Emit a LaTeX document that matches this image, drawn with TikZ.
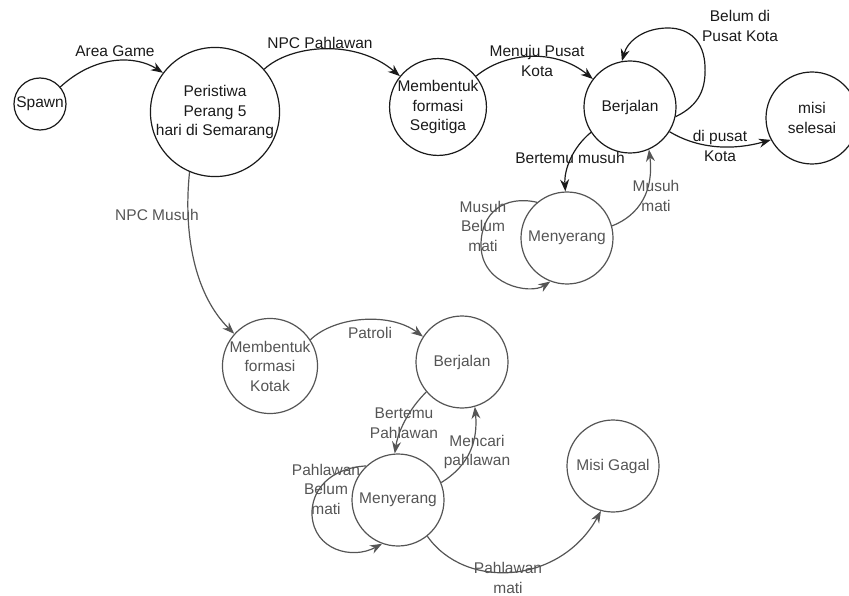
\documentclass[tikz,border=0pt]{standalone}
\usepackage{fontspec}
\setmainfont{Liberation Sans}
\usetikzlibrary{arrows.meta}
\definecolor{ink}{HTML}{1A1A1A}
\definecolor{soft}{HTML}{555555}
\begin{document}
\begin{tikzpicture}[x=1pt,y=-1pt,
  font=\fontsize{15.5}{19.5}\selectfont,
  state/.style={circle,draw=ink,text=ink,line width=1.2pt,inner sep=0pt,align=center},
  softstate/.style={state,draw=soft,text=soft},
  trans/.style={draw=ink,line width=1.2pt,-{Stealth[length=12pt,width=9pt]}},
  softtrans/.style={trans,draw=soft},
  lbl/.style={text=ink,align=center,inner sep=0pt},
  softlbl/.style={lbl,text=soft}]
\useasboundingbox (0,0) rectangle (849,596);

% upper states
\node[state,minimum size=52pt] (spawn) at (40,104) {Spawn};
\node[state,minimum size=104pt] (peri) at (215,112) {Peristiwa\\Perang 5\\hari di Semarang};
\node[state,minimum size=92pt] (segi) at (438,107) {Membentuk\\formasi\\Segitiga};
\node[state,minimum size=92pt] (jalan) at (630,107) {Berjalan};
\node[state,minimum size=92pt] (selesai) at (812,118) {misi\\selesai};
\node[softstate,minimum size=92pt] (serang) at (567,238) {Menyerang};

% lower states
\node[softstate,minimum size=92pt] (kotak) at (270,366) {Membentuk\\formasi\\Kotak};
\node[softstate,minimum size=92pt] (jalan2) at (462,362) {Berjalan};
\node[softstate,minimum size=92pt] (serang2) at (398,500) {Menyerang};
\node[softstate,minimum size=92pt] (gagal) at (613,466) {Misi Gagal};

% upper transitions
\draw[trans] (spawn.40) .. controls (95,55) and (135,55) .. (peri.143);
\node[lbl] (lArea) at (115,51) {Area Game};

\draw[trans] (peri.41) .. controls (290,45) and (355,38) .. (segi.141);
\node[lbl] (lPahl) at (320,43) {NPC Pahlawan};

\draw[trans] (segi.39) .. controls (505,52) and (555,48) .. (jalan.143);
\node[lbl] (lMenuju) at (537,61) {Menuju Pusat\\Kota};

\draw[trans] (jalan.-12) .. controls (700,105) and (706,88) .. (705,66)
  .. controls (704,42) and (690,28) .. (668,28)
  .. controls (645,28) and (628,40) .. (jalan.100);
\node[lbl] (lBelum) at (740,26) {Belum di\\Pusat Kota};

\draw[trans] (jalan.-32) .. controls (700,150) and (735,150) .. (selesai.208);
\node[lbl] (lPusat) at (720,146) {di pusat\\Kota};

\draw[trans] (jalan.213) .. controls (572,148) and (564,170) .. (serang.92);
\node[lbl] (lTemu) at (570,158) {Bertemu musuh};

\draw[softtrans] (serang.15) .. controls (640,215) and (654,190) .. (jalan.-66);
\node[softlbl] (lMati) at (656,196) {Musuh\\mati};

\draw[softtrans] (serang.130) .. controls (505,195) and (481,212) .. (481,245)
  .. controls (481,285) and (530,295) .. (serang.249);
\node[softlbl] (lBelumMati) at (483,226) {Musuh\\Belum\\mati};

% lower transitions
\draw[softtrans] (peri.247) .. controls (183,235) and (195,295) .. (kotak.138);
\node[softlbl] (lMusuh) at (157,215) {NPC Musuh};

\draw[softtrans] (kotak.33) .. controls (335,316) and (390,312) .. (jalan2.147);
\node[softlbl] (lPatroli) at (370,333) {Patroli};

\draw[softtrans] (jalan2.220) .. controls (408,410) and (398,432) .. (serang2.94);
\node[softlbl] (lTemu2) at (404,423) {Bertemu\\Pahlawan};

\draw[softtrans] (serang2.22) .. controls (470,465) and (478,440) .. (jalan2.-74);
\node[softlbl] (lCari) at (477,452) {Mencari\\pahlawan};

\draw[softtrans] (serang2.133) .. controls (330,468) and (311,490) .. (312,515)
  .. controls (314,550) and (352,560) .. (serang2.250);
\node[softlbl] (lBelum2) at (326,489) {Pahlawan\\Belum\\mati};

\draw[softtrans] (serang2.-51) .. controls (465,590) and (560,585) .. (gagal.255);
\node[softlbl] (lMati2) at (508,578) {Pahlawan\\mati};
\end{tikzpicture}
\end{document}
